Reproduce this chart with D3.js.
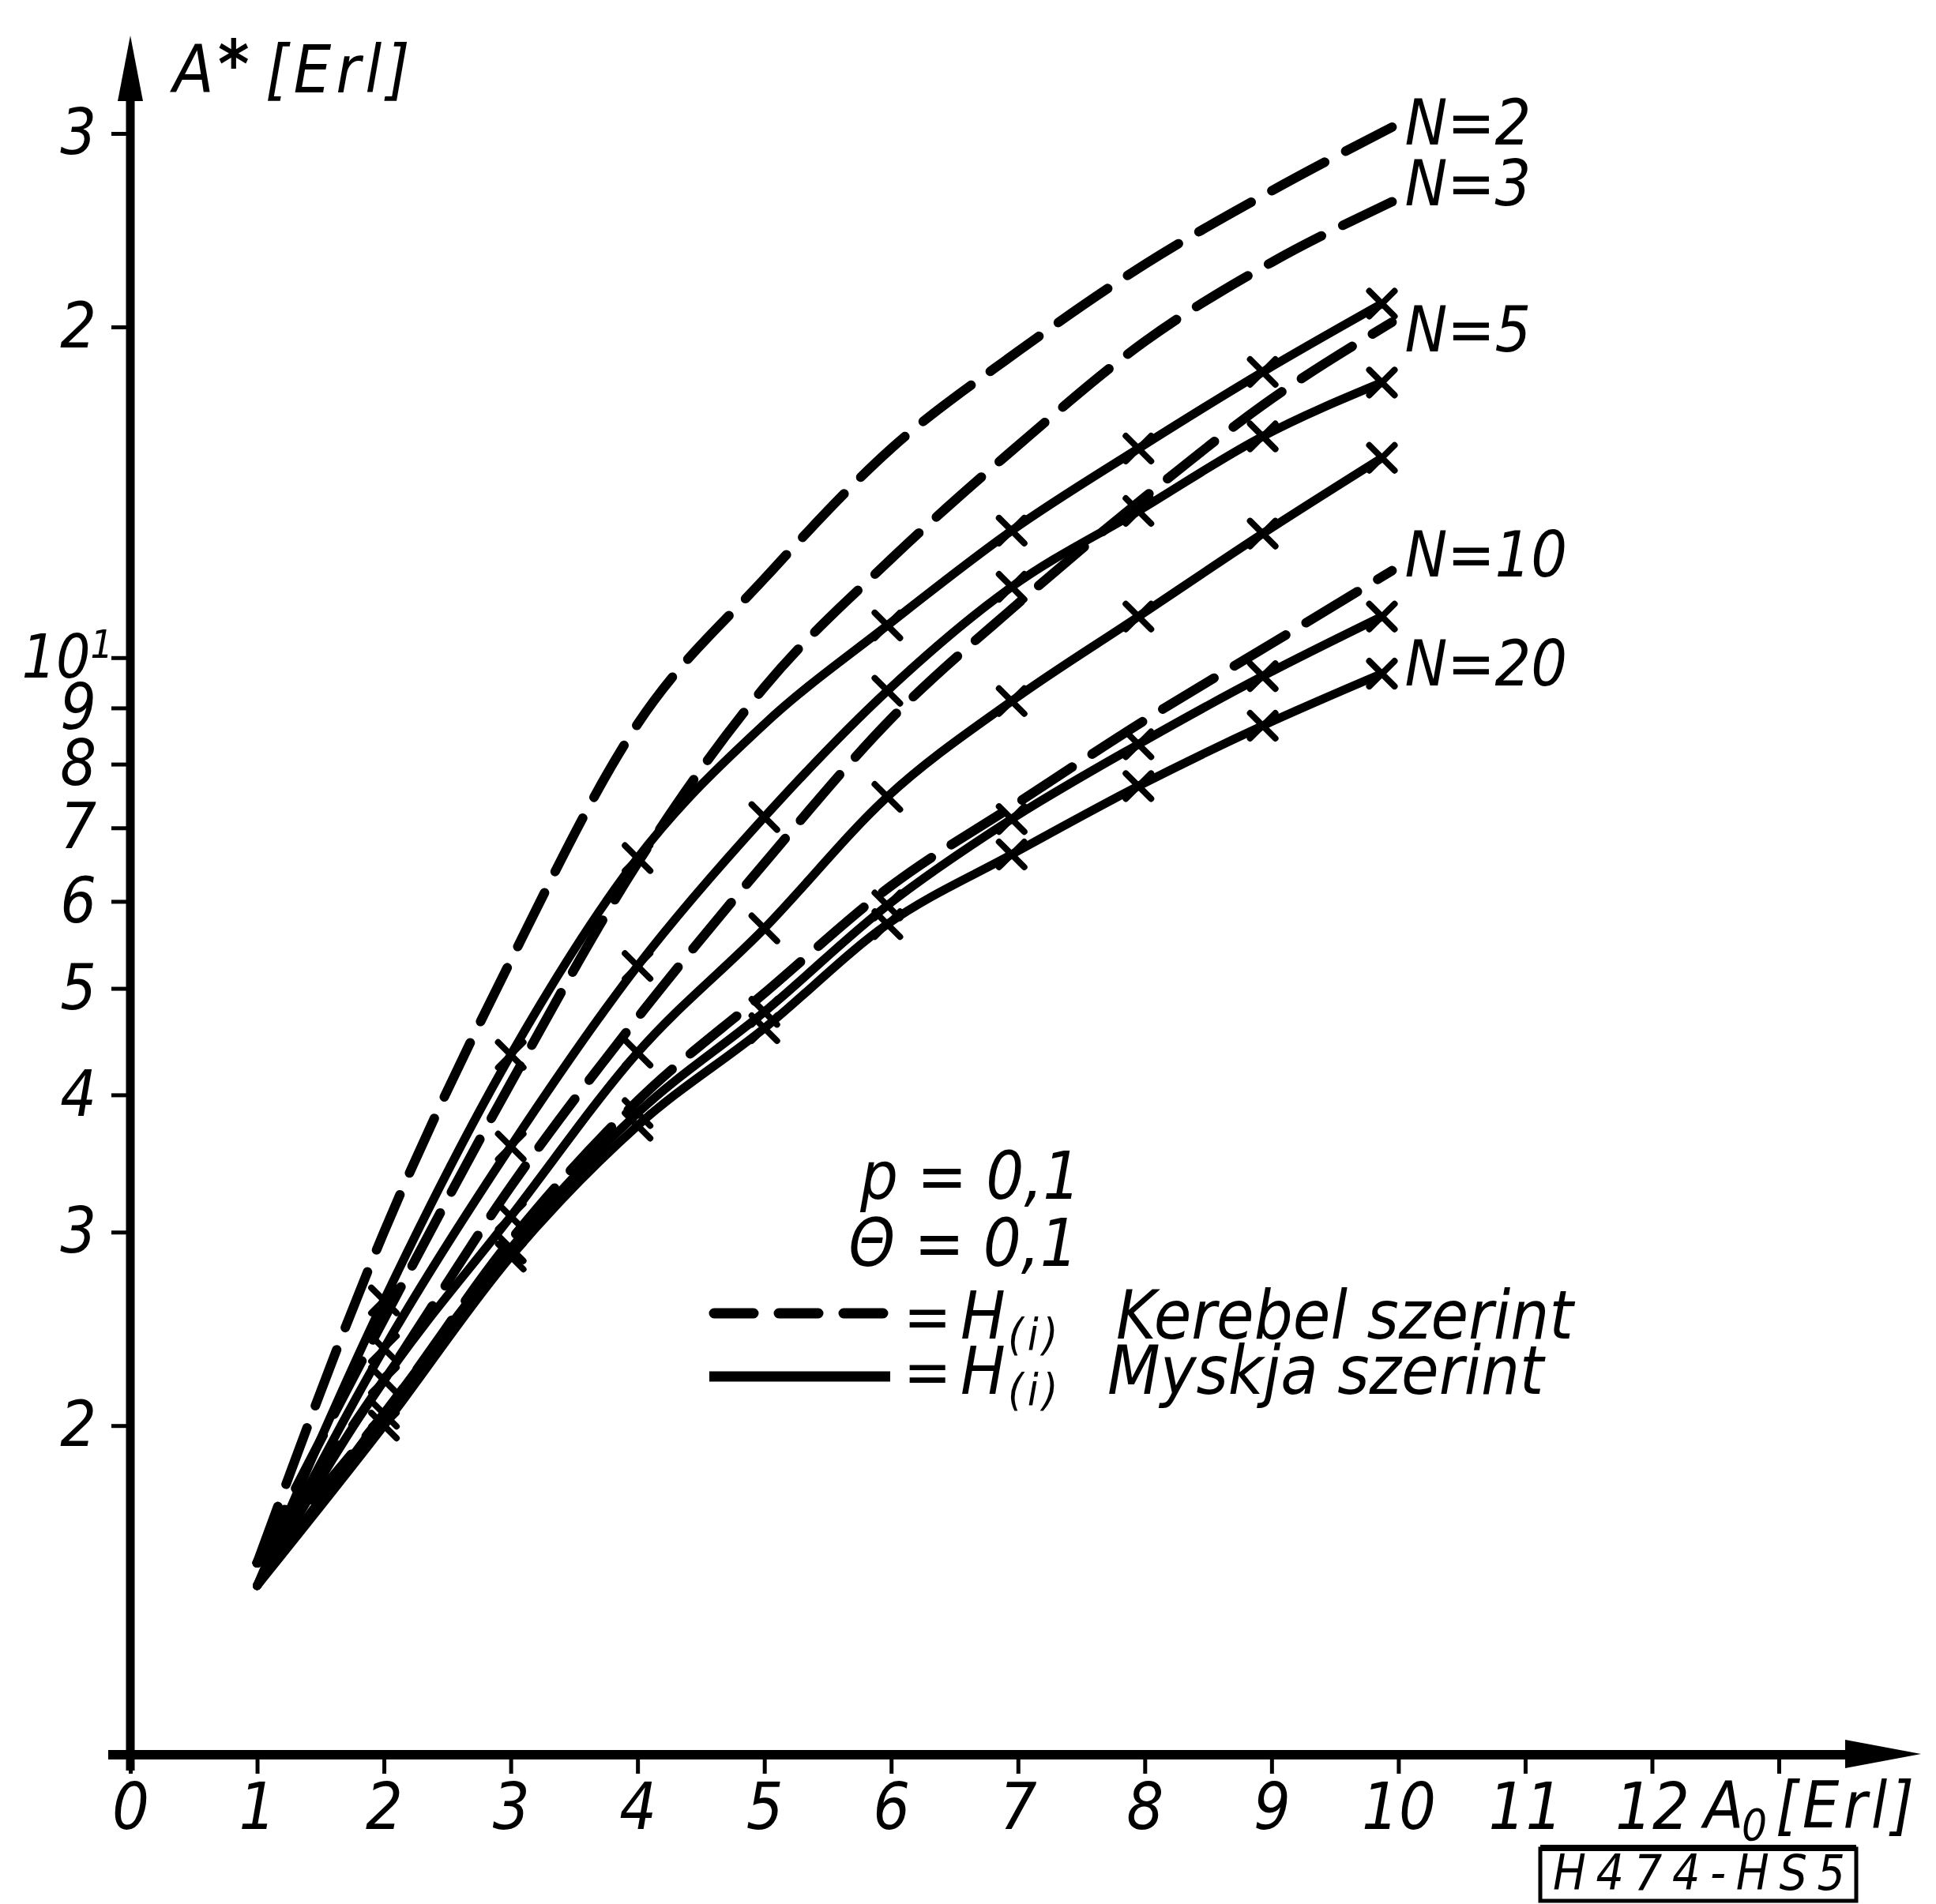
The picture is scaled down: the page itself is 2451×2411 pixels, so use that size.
<!DOCTYPE html>
<html>
<head>
<meta charset="utf-8">
<script src="https://cdn.jsdelivr.net/npm/d3@7"></script>
<style>
  body { margin: 0; background: #fff; }
  text { font-family: "DejaVu Sans Condensed", "DejaVu Sans", sans-serif; font-style: oblique; fill: #000; }
</style>
</head>
<body>
<div id="chart"></div>
<script>
var width = 2451;
var height = 2411;

// axis ticks
var xTicks = [0, 1, 2, 3, 4, 5, 6, 7, 8, 9, 10, 11, 12, 13];
var xTickLabels = ["0", "1", "2", "3", "4", "5", "6", "7", "8", "9", "10", "11", "12", ""];
var yTicks = [2, 3, 4, 5, 6, 7, 8, 9, 10, 20, 30];
var yTickLabels = ["2", "3", "4", "5", "6", "7", "8", "9", "10", "2", "3"];

// H(i) Kerebel szerint (dashed)
var kerebelX = [1, 2, 3, 4, 5, 6, 7, 8, 9, 9.95];
var kerebelN2 = [1.5, 3.0, 5.3, 8.7, 11.8, 15.5, 19.0, 22.8, 26.6, 30.4];
var kerebelN3 = [1.5, 2.5, 4.1, 6.5, 9.4, 12.3, 15.6, 19.4, 22.9, 26.0];
var kerebelN5 = [1.5, 2.2, 3.3, 4.7, 6.5, 8.8, 11.2, 14.0, 17.2, 20.2];
var kerebelN10 = [1.5, 2.05, 2.95, 3.95, 4.95, 6.2, 7.38, 8.77, 10.3, 12.0];

// H(i) Myskja szerint (solid, x markers)
var myskjaX = [1, 2, 3, 4, 5, 5.97, 6.95, 7.95, 8.93, 9.87];
var myskjaN2 = [1.43, 2.6, 4.35, 6.57, 8.7, 10.7, 13.05, 15.5, 18.2, 21.0];
var myskjaN3 = [1.43, 2.35, 3.59, 5.24, 7.16, 9.33, 11.6, 13.6, 15.9, 17.8];
var myskjaN5 = [1.43, 2.2, 3.1, 4.37, 5.67, 7.47, 9.13, 10.9, 12.97, 15.2];
var myskjaN10 = [1.43, 2.05, 2.9, 3.85, 4.76, 5.95, 7.13, 8.34, 9.62, 10.9];
var myskjaN20 = [1.43, 2.0, 2.85, 3.75, 4.6, 5.72, 6.62, 7.64, 8.67, 9.67];
// points drawn without an x marker (A0 = 5 on the N=2 curve has none)
var myskjaUnmarked = [[0, 4], [0], [0], [0], [0]];

// curve labels at the right end
var curveLabels = ["N=2", "N=3", "N=5", "N=10", "N=20"];
var curveLabelAt = [29.3, 25.8, 19.0, 11.86, 9.44];

var svg = d3.select("#chart").append("svg")
    .attr("width", width)
    .attr("height", height)
    .style("background", "#fff");

var x = d3.scaleLinear().domain([0, 13]).range([165, 2252]);
var y = d3.scaleLog().domain([1, 30]).range([2224, 169]);

// x axis
var xAxis = d3.axisBottom(x)
    .tickValues(xTicks)
    .tickSize(22)
    .tickPadding(12)
    .tickFormat(function(d, i) { return xTickLabels[i]; });
var gx = svg.append("g")
    .attr("transform", "translate(0," + y(1) + ")")
    .call(xAxis)
    .attr("font-size", 82);
gx.select(".domain").remove();
gx.selectAll(".tick line").attr("stroke", "#000").attr("stroke-width", 5);
gx.selectAll(".tick text").attr("fill", "#000");

// y axis
var yAxis = d3.axisLeft(y)
    .tickValues(yTicks)
    .tickSize(24)
    .tickPadding(19)
    .tickFormat(function(d, i) { return yTickLabels[i]; });
var gy = svg.append("g")
    .attr("transform", "translate(" + x(0) + ",0)")
    .call(yAxis)
    .attr("font-size", 80);
gy.select(".domain").remove();
gy.selectAll(".tick line").attr("stroke", "#000").attr("stroke-width", 5);
gy.selectAll(".tick text").attr("fill", "#000");
gy.selectAll(".tick text").filter(function(d) { return d === 10; })
    .attr("x", -22)
    .attr("font-size", 76)
    .append("tspan").attr("dy", "-0.5em").attr("font-size", 50).text("1");

// axis lines with arrows
svg.append("line")
    .attr("x1", x(0)).attr("x2", x(0))
    .attr("y1", y(1) + 18).attr("y2", 120)
    .attr("stroke", "#000").attr("stroke-width", 11);
svg.append("path")
    .attr("d", "M" + x(0) + ",45 L" + (x(0) - 16) + ",128 L" + (x(0) + 16) + ",128 Z")
    .attr("fill", "#000");
svg.append("line")
    .attr("x1", 137).attr("x2", 2345)
    .attr("y1", y(1) - 2).attr("y2", y(1) - 2)
    .attr("stroke", "#000").attr("stroke-width", 12);
svg.append("path")
    .attr("d", "M2432," + (y(1) - 3) + " L2336," + (y(1) - 21) + " L2336," + (y(1) + 15) + " Z")
    .attr("fill", "#000");

// axis titles
svg.append("text").attr("x", 219).attr("y", 117).attr("font-size", 84).text("A");
svg.append("text").attr("x", 276).attr("y", 110).attr("font-size", 84).attr("font-weight", "bold").text("*");
svg.append("text").attr("x", 336).attr("y", 117).attr("font-size", 84).attr("letter-spacing", 6).text("[Erl]");

svg.append("text").attr("x", 2157).attr("y", 2314).attr("font-size", 82).text("A");
svg.append("text").attr("x", 2205).attr("y", 2330).attr("font-size", 56).text("0");
svg.append("text").attr("x", 2248).attr("y", 2314).attr("font-size", 82).attr("letter-spacing", 5).text("[Erl]");

// curves
var line = d3.line()
    .x(function(d) { return x(d[0]); })
    .y(function(d) { return y(d[1]); })
    .curve(d3.curveMonotoneX);

var kerebel = [kerebelN2, kerebelN3, kerebelN5, kerebelN10];
kerebel.forEach(function(s) {
    svg.append("path")
        .datum(d3.zip(kerebelX, s))
        .attr("d", line)
        .attr("fill", "none")
        .attr("stroke", "#000")
        .attr("stroke-width", 12)
        .attr("stroke-linecap", "round")
        .attr("stroke-dasharray", "76,30");
});

var myskja = [myskjaN2, myskjaN3, myskjaN5, myskjaN10, myskjaN20];
myskja.forEach(function(s, k) {
    var pts = d3.zip(myskjaX, s);
    svg.append("path")
        .datum(pts)
        .attr("d", line)
        .attr("fill", "none")
        .attr("stroke", "#000")
        .attr("stroke-width", 11)
        .attr("stroke-linecap", "round");
    svg.selectAll(null)
        .data(pts.filter(function(d, i) { return myskjaUnmarked[k].indexOf(i) < 0; }))
        .enter()
        .append("path")
        .attr("transform", function(d) { return "translate(" + x(d[0]) + "," + y(d[1]) + ")"; })
        .attr("d", "M-16,-16L16,16M-16,16L16,-16")
        .attr("stroke", "#000")
        .attr("stroke-width", 8)
        .attr("stroke-linecap", "round");
});

// N labels
svg.selectAll(".nlabel")
    .data(curveLabels)
    .enter()
    .append("text")
    .attr("class", "nlabel")
    .attr("x", x(10.05))
    .attr("y", function(d, i) { return y(curveLabelAt[i]); })
    .attr("font-size", 80)
    .text(function(d) { return d; });

// legend
svg.append("text").attr("x", 1089).attr("y", 1518).attr("font-size", 84).text("p = 0,1");
svg.append("text").attr("x", 1074).attr("y", 1603).attr("font-size", 84).text("\u0398 = 0,1");

svg.append("line")
    .attr("x1", 904).attr("x2", 1120).attr("y1", 1663).attr("y2", 1663)
    .attr("stroke", "#000").attr("stroke-width", 13)
    .attr("stroke-linecap", "round").attr("stroke-dasharray", "50,32");
svg.append("text").attr("x", 1144).attr("y", 1695).attr("font-size", 80).text("=");
svg.append("text").attr("x", 1216).attr("y", 1695).attr("font-size", 84).text("H");
svg.append("text").attr("x", 1276).attr("y", 1709).attr("font-size", 56).attr("letter-spacing", 5).text("(i)");
svg.append("text").attr("x", 1413).attr("y", 1695).attr("font-size", 86).text("Kerebel szerint");

svg.append("line")
    .attr("x1", 898).attr("x2", 1127).attr("y1", 1743).attr("y2", 1743)
    .attr("stroke", "#000").attr("stroke-width", 13);
svg.append("text").attr("x", 1144).attr("y", 1765).attr("font-size", 80).text("=");
svg.append("text").attr("x", 1216).attr("y", 1765).attr("font-size", 84).text("H");
svg.append("text").attr("x", 1276).attr("y", 1779).attr("font-size", 56).attr("letter-spacing", 5).text("(i)");
svg.append("text").attr("x", 1402).attr("y", 1765).attr("font-size", 86).text("Myskja szerint");

// figure code box
svg.append("rect")
    .attr("x", 1950).attr("y", 2341).attr("width", 400).attr("height", 66)
    .attr("fill", "none").attr("stroke", "#000").attr("stroke-width", 5);
svg.append("line")
    .attr("x1", 1950).attr("x2", 2350).attr("y1", 2340).attr("y2", 2340)
    .attr("stroke", "#000").attr("stroke-width", 8);
svg.append("text")
    .attr("x", 1966).attr("y", 2393).attr("font-size", 62)
    .attr("textLength", 370).attr("lengthAdjust", "spacing")
    .text("H474-HS5");
</script>
</body>
</html>
